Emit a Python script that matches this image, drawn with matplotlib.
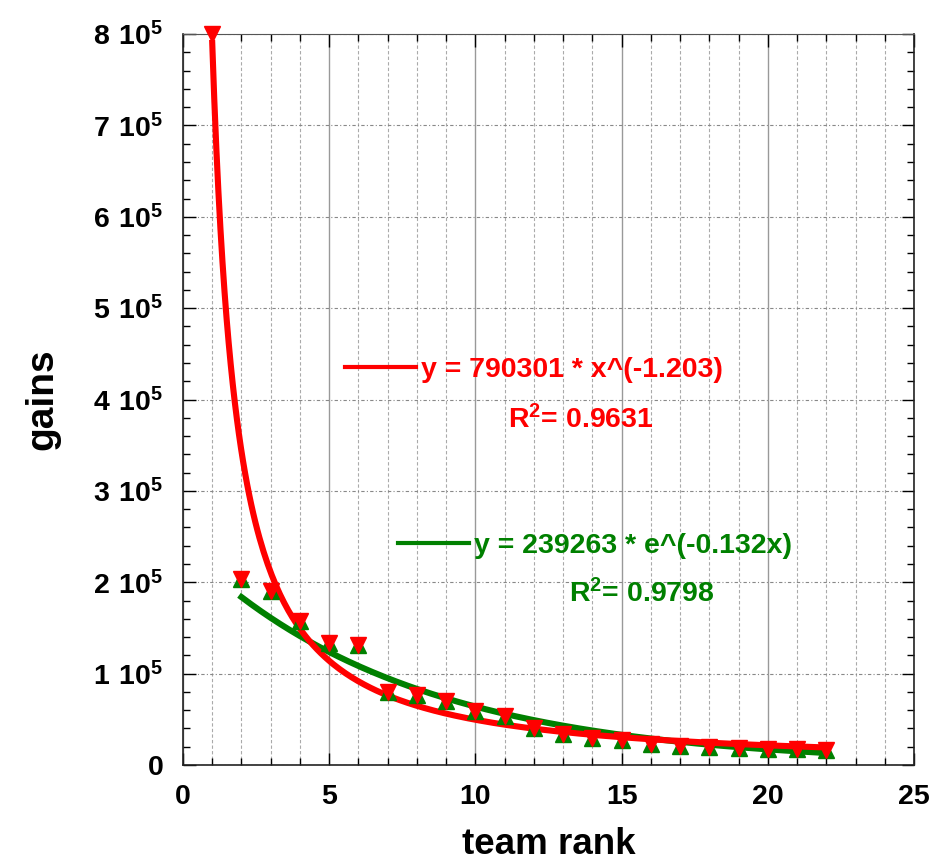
import numpy as np
import matplotlib
matplotlib.use('Agg')
import matplotlib.pyplot as plt
from matplotlib.ticker import MultipleLocator, FuncFormatter

plt.rcParams['font.family'] = ['Liberation Sans', 'DejaVu Sans']
plt.rcParams['font.weight'] = 'bold'
plt.rcParams['axes.labelweight'] = 'bold'
plt.rcParams['mathtext.fontset'] = 'custom'
plt.rcParams['mathtext.rm'] = 'Liberation Sans:bold'
plt.rcParams['mathtext.bf'] = 'Liberation Sans:bold'
plt.rcParams['mathtext.default'] = 'rm'

# data
rank = [1, 2, 3, 4, 5, 6, 7, 8, 9, 10, 11, 12, 13, 14, 15, 16, 17, 18, 19, 20, 21, 22]
gains = [800000, 204000, 190000, 158000, 134000, 131000, 80000, 77000, 70000, 59000, 54000,
         41000, 34000, 30000, 27000, 23000, 21000, 20000, 19000, 17500, 17000, 16000]

# fit coefficients shown on the chart
pow_a, pow_b, pow_r2 = 790301, -1.203, 0.9631
exp_a, exp_b, exp_r2 = 239263, -0.132, 0.9798

red = '#ff0000'
green = '#008000'

fig = plt.figure(figsize=(9.36, 8.64), dpi=100)
ax = fig.add_axes([0.1955, 0.1146, 0.7810, 0.8460])

xr = np.linspace(rank[0], rank[-1], 300)
xg = np.linspace(rank[1], rank[-1], 300)
ax.plot(xg, exp_a * np.exp(exp_b * xg), color=green, lw=4.4, zorder=3)
ax.plot(xr, pow_a * xr ** pow_b, color=red, lw=4.4, zorder=4)

ax.plot(rank[1:], gains[1:], linestyle='none', marker='^', ms=11, color=green, zorder=5, clip_on=False)
ax.plot(rank, gains, linestyle='none', marker='v', ms=11, color=red, zorder=6, clip_on=False)

ax.set_xlim(0, 25)
ax.set_ylim(0, 800000)
ax.xaxis.set_major_locator(MultipleLocator(5))
ax.xaxis.set_minor_locator(MultipleLocator(1))
ax.yaxis.set_major_locator(MultipleLocator(100000))
ax.yaxis.set_minor_locator(MultipleLocator(20000))


def yfmt(v, pos):
    n = int(round(v / 100000))
    if n == 0:
        return '0'
    return r'$%d\ 10^{5}$' % n


ax.yaxis.set_major_formatter(FuncFormatter(yfmt))
ax.tick_params(which='both', direction='in', top=True, right=True, labelsize=20.5, pad=14)
ax.tick_params(which='major', length=9, width=1)
ax.tick_params(which='minor', length=5, width=1)

ax.grid(which='major', axis='x', color='#999999', lw=1, ls='-')
ax.grid(which='minor', axis='x', color='#aaaaaa', lw=0.8, ls=(0, (3, 2)))
ax.grid(which='major', axis='y', color='#888888', lw=0.8, ls=(0, (3, 2, 1, 2)))
ax.set_axisbelow(True)

ax.spines['top'].set_linestyle((0, (3, 1)))
ax.spines['top'].set_color('#555555')
for s in ['left', 'right', 'bottom']:
    ax.spines[s].set_color('#222222')
    ax.spines[s].set_linewidth(1.2)

ax.set_xlabel('team rank', fontsize=26.5, labelpad=12)
ax.set_ylabel('gains', fontsize=28, labelpad=24)

# fit legends
h_red, = ax.plot([], [], color=red, lw=3)
h_green, = ax.plot([], [], color=green, lw=3)
leg1 = ax.legend([h_red], ['y = %d * x^(%.3f)' % (pow_a, pow_b)],
                 loc='center left', bbox_to_anchor=(5.54, 432000), bbox_transform=ax.transData,
                 frameon=False, handlelength=2.5, handletextpad=0.18, borderpad=0, borderaxespad=0,
                 prop={'size': 20.5, 'weight': 'bold'}, labelcolor=red)
ax.add_artist(leg1)
ax.legend([h_green], ['y = %d * e^(%.3fx)' % (exp_a, exp_b)],
          loc='center left', bbox_to_anchor=(7.35, 240000), bbox_transform=ax.transData,
          frameon=False, handlelength=2.5, handletextpad=0.18, borderpad=0, borderaxespad=0,
          prop={'size': 20.5, 'weight': 'bold'}, labelcolor=green)
ax.text(13.6, 378000, r'R$^{2}$= %.4f' % pow_r2, color=red, fontsize=20.5, ha='center', va='center')
ax.text(15.7, 188000, r'R$^{2}$= %.4f' % exp_r2, color=green, fontsize=20.5, ha='center', va='center')

fig.savefig('out.png', dpi=100)
